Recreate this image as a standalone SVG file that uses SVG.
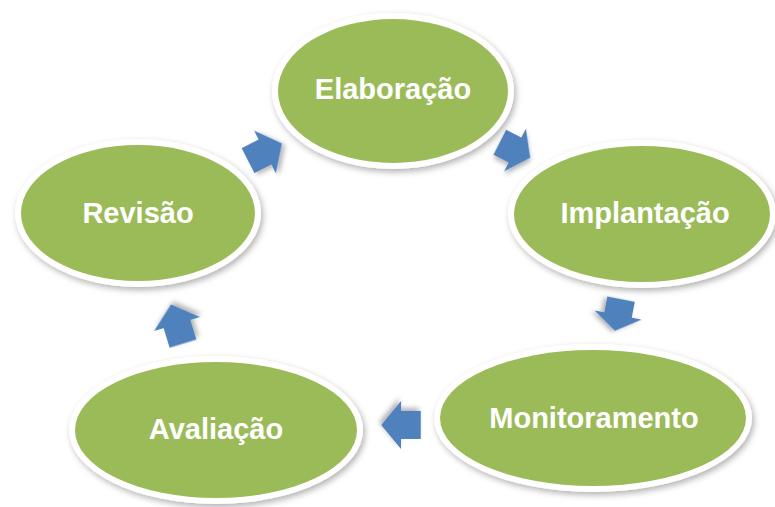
<svg xmlns="http://www.w3.org/2000/svg" xmlns:xlink="http://www.w3.org/1999/xlink" width="775" height="507" viewBox="0 0 775 507">
  <style>
    .rim { fill: #ffffff; filter: url(#shadow); }
    .body { fill: #9BBB59; }
    .label { font-family: "Liberation Sans", Arial, sans-serif; font-weight: bold; font-size: 29px; fill: #ffffff; text-anchor: middle; }
    .arrow { fill: #4F81BD; filter: url(#ashadow); }
  </style>
  <defs>
    <filter id="shadow" x="-20%" y="-20%" width="140%" height="150%">
      <feDropShadow dx="2" dy="3" stdDeviation="3" flood-color="#000000" flood-opacity="0.3"/>
    </filter>
    <filter id="ashadow" x="-40%" y="-40%" width="180%" height="180%">
      <feDropShadow dx="2" dy="3" stdDeviation="2.5" flood-color="#000000" flood-opacity="0.3"/>
    </filter>
    <path id="arr" d="M-19,-14 L0,-14 L0,-24 L19,0 L0,24 L0,14 L-19,14 Z"/>
  </defs>
  <rect width="775" height="507" fill="#ffffff"/>

  <g id="connectors">
    <use xlink:href="#arr" href="#arr" class="arrow" transform="translate(515,150) rotate(27) scale(0.9,1)"/>
    <use xlink:href="#arr" href="#arr" class="arrow" transform="translate(618,315) rotate(101) scale(0.85,1)"/>
    <use xlink:href="#arr" href="#arr" class="arrow" transform="translate(401,425) rotate(180) scale(1.04,1)"/>
    <use xlink:href="#arr" href="#arr" class="arrow" transform="translate(177,324) rotate(-107) scale(1.08,1)"/>
    <use xlink:href="#arr" href="#arr" class="arrow" transform="translate(265,152) rotate(-27) scale(1,1)"/>
  </g>

  <g id="elaboracao">
    <ellipse class="rim" cx="393" cy="91" rx="121" ry="78"/>
    <ellipse class="body" cx="393" cy="91" rx="115" ry="72"/>
    <text class="label" x="393" y="99">Elaboração</text>
  </g>
  <g id="implantacao">
    <ellipse class="rim" cx="642" cy="214" rx="134" ry="74"/>
    <ellipse class="body" cx="642" cy="214" rx="128" ry="68"/>
    <text class="label" x="645" y="223">Implantação</text>
  </g>
  <g id="monitoramento">
    <ellipse class="rim" cx="593" cy="418" rx="159" ry="74"/>
    <ellipse class="body" cx="593" cy="418" rx="153" ry="68"/>
    <text class="label" x="594" y="428">Monitoramento</text>
  </g>
  <g id="avaliacao">
    <ellipse class="rim" cx="216" cy="430" rx="147" ry="74"/>
    <ellipse class="body" cx="216" cy="430" rx="141" ry="68"/>
    <text class="label" x="216" y="439">Avaliação</text>
  </g>
  <g id="revisao">
    <ellipse class="rim" cx="138" cy="213" rx="123" ry="74"/>
    <ellipse class="body" cx="138" cy="213" rx="117" ry="68"/>
    <text class="label" x="138" y="223">Revisão</text>
  </g>
</svg>
